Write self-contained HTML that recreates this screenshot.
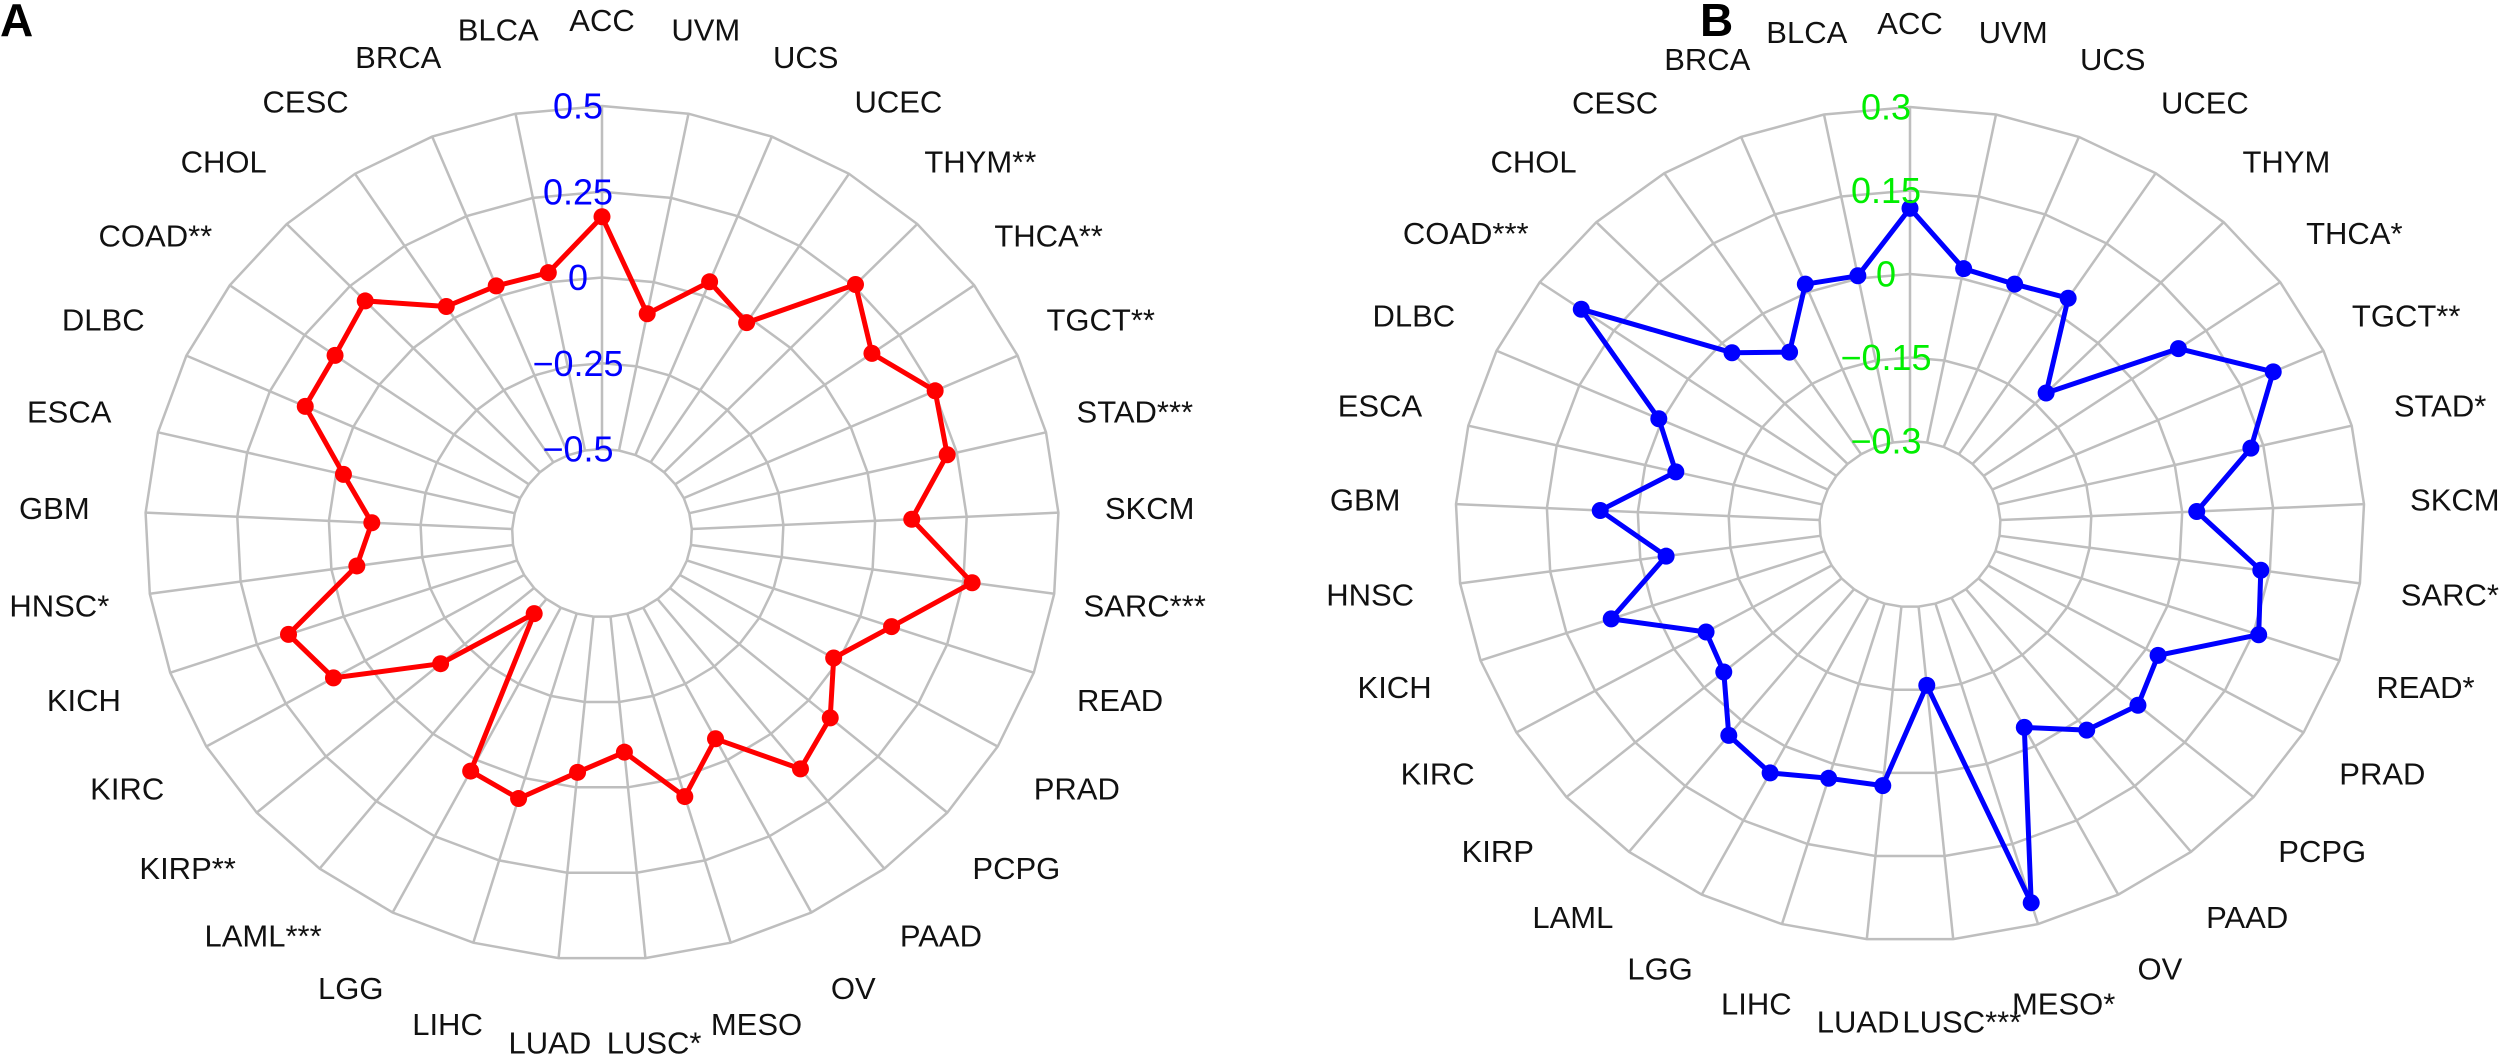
<!DOCTYPE html>
<html><head><meta charset="utf-8"><style>
html,body{margin:0;padding:0;background:#fff;}
svg{display:block;}
text{font-family:"Liberation Sans",Arial,sans-serif;}
</style></head>
<body>
<svg id="chart" width="2500" height="1061" viewBox="0 0 2500 1061" xmlns="http://www.w3.org/2000/svg">
<rect width="2500" height="1061" fill="#fff"/>
<text x="0" y="36" font-size="46" font-weight="bold" fill="#000">A</text>
<text x="1700" y="36" font-size="46" font-weight="bold" fill="#000">B</text>
</svg>
<script>
const categories = ["ACC","UVM","UCS","UCEC","THYM","THCA","TGCT","STAD","SKCM","SARC","READ","PRAD","PCPG","PAAD","OV","MESO","LUSC","LUAD","LIHC","LGG","LAML","KIRP","KIRC","KICH","HNSC","GBM","ESCA","DLBC","COAD","CHOL","CESC","BRCA","BLCA"];
const starsA = ["","","","","**","**","**","***","","***","","","","","","","*","","","","***","**","","","*","","","","**","","","",""];
const starsB = ["","","","","","*","**","*","","*","*","","","","","*","***","","","","","","","","","","","","***","","","",""];
const valuesA = [0.177,-0.094,0.044,-0.016,0.256,0.158,0.253,0.223,0.1,0.274,0.09,-0.016,0.078,0.13,-0.07,0.056,-0.103,-0.044,0.062,0.036,-0.446,-0.163,0.1,0.159,-0.07,-0.117,-0.02,0.144,0.148,0.19,0.04,0.031,0.028];
const valuesB = [0.118,0.018,0.015,0.033,-0.124,0.094,0.209,0.129,0.024,0.135,0.159,0.023,0.048,0.022,-0.038,0.26,-0.158,0.023,0.027,0.054,0.034,-0.043,-0.061,0.072,-0.043,0.062,-0.052,0.006,0.216,-0.024,-0.082,0.015,0.005];
const ticksA = ["-0.5","-0.25","0","0.25","0.5"];
const ticksB = ["-0.3","-0.15","0","0.15","0.3"];

const NS = "http://www.w3.org/2000/svg";
const svg = document.getElementById('chart');
function mk(tag, attrs, parent){
  const e = document.createElementNS(NS, tag);
  for (const k in attrs) e.setAttribute(k, attrs[k]);
  (parent||svg).appendChild(e);
  return e;
}
function drawRadar(cfg){
  const g = mk('g', {});
  
  
  const n = categories.length;
  const ang = i => i * 2 * Math.PI / n;
  const rScale = v => cfg.r0 + (v - cfg.min) / (cfg.max - cfg.min) * (cfg.r1 - cfg.r0);
  const px = (i, r) => cfg.cx + Math.sin(ang(i)) * r * cfg.kx;
  const py = (i, r) => cfg.cy - Math.cos(ang(i)) * r;
  for (let k = 0; k < 5; k++){
    const r = cfg.r0 + k * (cfg.r1 - cfg.r0) / 4;
    let pts = [];
    for (let i = 0; i < n; i++) pts.push(px(i, r).toFixed(1) + ',' + py(i, r).toFixed(1));
    const ring = mk('polygon', {points: pts.join(' '), fill: 'none', stroke: '#bebebe', 'stroke-width': 2.5}, g);
    
    
  }
  for (let i = 0; i < n; i++){
    const s = mk('line', {x1: px(i, cfg.r0), y1: py(i, cfg.r0), x2: px(i, cfg.r1), y2: py(i, cfg.r1), stroke: '#bebebe', 'stroke-width': 2.5}, g);
    
    
  }
  let pts = [];
  for (let i = 0; i < n; i++){
    const r = rScale(cfg.values[i]);
    pts.push(px(i, r).toFixed(1) + ',' + py(i, r).toFixed(1));
  }
  const line = mk('polygon', {points: pts.join(' '), fill: 'none', stroke: cfg.color, 'stroke-width': 5, 'stroke-linejoin': 'round'}, g);
  
  
  for (let i = 0; i < n; i++){
    const r = rScale(cfg.values[i]);
    const c = mk('circle', {cx: px(i, r), cy: py(i, r), r: 8.5, fill: cfg.color}, g);
    
    
  }
  for (let k = 0; k < 5; k++){
    const r = cfg.r0 + k * (cfg.r1 - cfg.r0) / 4;
    const t = mk('text', {x: cfg.cx - 24, y: cfg.cy - r, 'font-size': 36, fill: cfg.tickColor, 'text-anchor': 'middle', 'dominant-baseline': 'central'}, g);
    t.textContent = cfg.ticks[k].replace('-', '\u2212');
    
    
  }
  for (let i = 0; i < n; i++){
    const r = cfg.r1 * 1.2;
    const t = mk('text', {x: px(i, r), y: py(i, r), 'font-size': 31, fill: '#111', 'text-anchor': 'middle', 'dominant-baseline': 'central'}, g);
    t.textContent = categories[i] + cfg.stars[i];
    
    
  }
}
drawRadar({name: 'radar-chart-a', cx: 602, cy: 533, r0: 84, r1: 427, kx: 1.07, min: -0.5, max: 0.5, values: valuesA, stars: starsA, ticks: ticksA, color: '#ff0000', tickColor: '#0000ff'});
drawRadar({name: 'radar-chart-b', cx: 1910, cy: 524, r0: 83, r1: 417, kx: 1.09, min: -0.3, max: 0.3, values: valuesB, stars: starsB, ticks: ticksB, color: '#0000ff', tickColor: '#00ee00'});
</script>
</body></html>
